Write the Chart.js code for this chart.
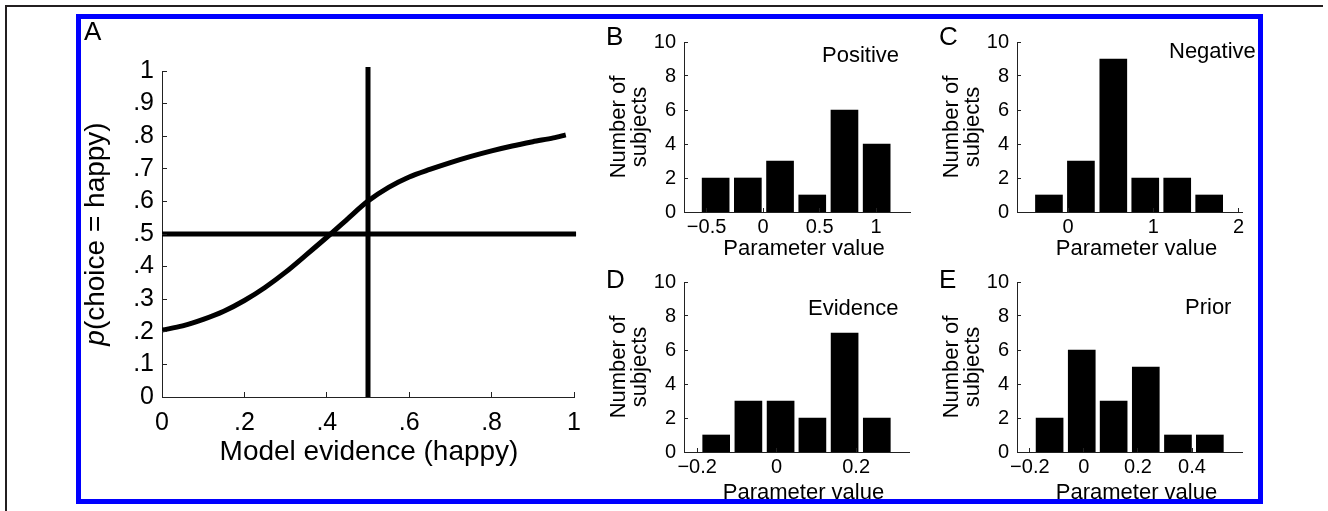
<!DOCTYPE html>
<html>
<head>
<meta charset="utf-8">
<script src="https://cdn.jsdelivr.net/npm/chart.js@4.4.1/dist/chart.umd.min.js"></script>
<style>
  body { margin: 0; background: #fff; width: 1328px; height: 511px; overflow: hidden; position: relative; }
  canvas { position: absolute; }
  .rule-top { position: absolute; left: 5px; top: 5px; width: 1318px; height: 2px; background: #231f20; }
  .rule-left { position: absolute; left: 5px; top: 5px; width: 2px; height: 506px; background: #231f20; }
  .frame { position: absolute; left: 76px; top: 14px; width: 1187px; height: 490px; box-sizing: border-box; border: 5px solid #0000ff; z-index: 5; }
</style>
</head>
<body>
<div class="rule-top"></div>
<div class="rule-left"></div>
<canvas id="panelA"></canvas>
<canvas id="panelB"></canvas>
<canvas id="panelC"></canvas>
<canvas id="panelD"></canvas>
<canvas id="panelE"></canvas>
<div class="frame"></div>
<script>
// Panel A: choice probability vs model evidence
var evidence = [0, 0.05, 0.1, 0.15, 0.2, 0.25, 0.3, 0.35, 0.4, 0.45, 0.5, 0.55, 0.6, 0.65, 0.7, 0.75, 0.8, 0.85, 0.9, 0.95, 0.98];
var pHappy = [0.205, 0.218, 0.238, 0.263, 0.296, 0.336, 0.383, 0.436, 0.49, 0.546, 0.601, 0.643, 0.675, 0.698, 0.719, 0.738, 0.755, 0.77, 0.783, 0.795, 0.804];
var chanceX = [0, 1.005];
var chanceY = [0.5, 0.5];
var midX = [0.5, 0.5];
var midY = [0, 1.012];
var ticksAx = [0, 0.2, 0.4, 0.6, 0.8, 1];
var labelsAx = ['0', '.2', '.4', '.6', '.8', '1'];
var ticksAy = [0, 0.1, 0.2, 0.3, 0.4, 0.5, 0.6, 0.7, 0.8, 0.9, 1];
var labelsAy = ['0', '.1', '.2', '.3', '.4', '.5', '.6', '.7', '.8', '.9', '1'];

// Panels B-E: histograms of fitted parameters (bin centres, counts)
var positiveBins = [-0.42, -0.135, 0.15, 0.435, 0.72, 1.005];
var positiveCounts = [2, 2, 3, 1, 6, 4];
var negativeBins = [-0.225, 0.15, 0.53, 0.905, 1.28, 1.655];
var negativeCounts = [1, 3, 9, 2, 2, 1];
var evidenceBins = [-0.152, -0.071, 0.01, 0.09, 0.171, 0.252];
var evidenceCounts = [1, 3, 3, 2, 7, 2];
var priorBins = [-0.127, -0.008, 0.11, 0.229, 0.348, 0.466];
var priorCounts = [2, 6, 3, 5, 1, 1];

var countTicks = [0, 2, 4, 6, 8, 10];
var countLabels = ['0', '2', '4', '6', '8', '10'];
var positiveTicks = [-0.5, 0, 0.5, 1];
var positiveLabels = ['\u22120.5', '0', '0.5', '1'];
var negativeTicks = [0, 1, 2];
var negativeLabels = ['0', '1', '2'];
var evidenceTicks = [-0.2, 0, 0.2];
var evidenceLabels = ['\u22120.2', '0', '0.2'];
var priorTicks = [-0.2, 0, 0.2, 0.4];
var priorLabels = ['\u22120.2', '0', '0.2', '0.4'];

var FONT = "'Liberation Sans', Arial, Helvetica, sans-serif";
Chart.defaults.font.family = FONT;
Chart.defaults.color = '#000';

function zip(xs, ys) {
    return xs.map(function(x, i) { return {x: x, y: ys[i]}; });
}

// ticks pointing into the plot, matlab style
function innerTicks(len) {
    return {
        id: 'innerTicks',
        afterDatasetsDraw: function(chart) {
            var ctx = chart.ctx, a = chart.chartArea, sx = chart.scales.x, sy = chart.scales.y;
            ctx.save();
            ctx.strokeStyle = '#222';
            ctx.lineWidth = 1;
            ctx.beginPath();
            sx.ticks.forEach(function(t) {
                var px = Math.floor(sx.getPixelForValue(t.value)) + 0.5;
                ctx.moveTo(px, a.bottom);
                ctx.lineTo(px, a.bottom - len);
            });
            sy.ticks.forEach(function(t) {
                var py = Math.floor(sy.getPixelForValue(t.value)) + 0.5;
                ctx.moveTo(a.left, py);
                ctx.lineTo(a.left + len, py);
            });
            ctx.stroke();
            ctx.restore();
        }
    };
}

// free text (panel letters, titles) in page coordinates
function textLayer(box, items) {
    return {
        id: 'textLayer',
        afterDraw: function(chart) {
            var ctx = chart.ctx;
            items.forEach(function(it) {
                var parts = it.parts || [{t: it.text}];
                var fontOf = function(p) { return (p.style || 'normal') + ' ' + it.size + 'px ' + FONT; };
                var widths = [], total = 0;
                ctx.save();
                parts.forEach(function(p) {
                    ctx.font = fontOf(p);
                    var w = ctx.measureText(p.t).width;
                    widths.push(w);
                    total += w;
                });
                ctx.fillStyle = '#000';
                ctx.textBaseline = 'alphabetic';
                ctx.textAlign = 'left';
                ctx.translate(it.x - box.l, it.y - box.t);
                if (it.rotate) ctx.rotate(-Math.PI / 2);
                var x0 = it.align === 'center' ? -total / 2 : 0;
                parts.forEach(function(p, i) {
                    ctx.font = fontOf(p);
                    ctx.fillText(p.t, x0, 0);
                    x0 += widths[i];
                });
                ctx.restore();
            });
        }
    };
}

function axis(min, max, values, labels, size, pad, fixSize, horizontal) {
    return {
        type: 'linear', min: min, max: max, offset: false,
        grid: {display: false, drawTicks: false, offset: false},
        border: {display: true, color: '#222', width: 1},
        afterBuildTicks: function(s) { s.ticks = values.map(function(v) { return {value: v}; }); },
        ticks: {
            autoSkip: false, maxRotation: 0, padding: pad, color: '#000',
            font: {size: size},
            callback: function(v, i) { return labels[i]; }
        },
        afterFit: function(s) {
            if (horizontal) s.height = fixSize; else s.width = fixSize;
            s.paddingLeft = 0; s.paddingRight = 0; s.paddingTop = 0; s.paddingBottom = 0;
        }
    };
}

function panel(id, box, area, spec) {
    var cv = document.getElementById(id);
    cv.width = box.w; cv.height = box.h;
    cv.style.left = box.l + 'px'; cv.style.top = box.t + 'px';
    cv.style.width = box.w + 'px'; cv.style.height = box.h + 'px';
    return new Chart(cv, {
        type: spec.type,
        data: {datasets: spec.datasets},
        options: {
            responsive: false, animation: false, devicePixelRatio: 1,
            layout: {padding: {left: 0, top: area.t - box.t, right: box.l + box.w - area.r, bottom: 0}},
            plugins: {legend: {display: false}, tooltip: {enabled: false}},
            scales: {
                x: axis(spec.xMin, spec.xMax, spec.xTicks, spec.xLabels, spec.tickSize, spec.xPad, box.t + box.h - area.b, true),
                y: axis(spec.yMin, spec.yMax, spec.yTicks, spec.yLabels, spec.tickSize, spec.yPad, area.l - box.l, false)
            }
        },
        plugins: [innerTicks(spec.tickLen), textLayer(box, spec.texts)]
    });
}

function lineSet(points, clip) {
    return {data: points, borderColor: '#000', borderWidth: 5, pointRadius: 0, tension: 0.3, fill: false, clip: clip, borderCapStyle: 'butt'};
}

panel('panelA', {l: 70, t: 20, w: 540, h: 470}, {l: 162, t: 71, r: 574, b: 397}, {
    type: 'line',
    datasets: [
        lineSet(zip(evidence, pHappy), 0),
        lineSet(zip(chanceX, chanceY), false),
        lineSet(zip(midX, midY), false)
    ],
    xMin: 0, xMax: 1, xTicks: ticksAx, xLabels: labelsAx,
    yMin: 0, yMax: 1, yTicks: ticksAy, yLabels: labelsAy,
    tickSize: 25, xPad: 11, yPad: 8, tickLen: 5,
    texts: [
        {text: 'A', x: 84, y: 40, size: 26},
        {text: 'Model evidence (happy)', x: 369, y: 460, size: 28, align: 'center'},
        {parts: [{t: 'p', style: 'italic'}, {t: '(choice = happy)'}], x: 104, y: 234, size: 28, align: 'center', rotate: true}
    ]
});

function histPanel(id, box, area, bins, counts, xMin, xMax, xTicks, xLabels, letter, letterY, note, titleY) {
    var texts = [
        {text: letter, x: area.l - 78, y: letterY, size: 26},
        {text: note.text, x: note.x, y: note.y, size: 22},
        {text: 'Parameter value', x: (area.l + area.r) / 2 + 7, y: titleY, size: 22, align: 'center'},
        {text: 'Number of', x: area.l - 59.5, y: (area.t + area.b) / 2, size: 22, align: 'center', rotate: true},
        {text: 'subjects', x: area.l - 38, y: (area.t + area.b) / 2, size: 22, align: 'center', rotate: true}
    ];
    return panel(id, box, area, {
        type: 'bar',
        datasets: [{data: zip(bins, counts), backgroundColor: '#000', borderWidth: 0, barThickness: 27}],
        xMin: xMin, xMax: xMax, xTicks: xTicks, xLabels: xLabels,
        yMin: 0, yMax: 10, yTicks: countTicks, yLabels: countLabels,
        tickSize: 20, xPad: 3, yPad: 8, tickLen: 4,
        texts: texts
    });
}

histPanel('panelB', {l: 590, t: 18, w: 345, h: 250}, {l: 684, t: 42, r: 910, b: 212},
    positiveBins, positiveCounts, -0.7, 1.3, positiveTicks, positiveLabels,
    'B', 45, {text: 'Positive', x: 822, y: 62}, 255);
histPanel('panelC', {l: 925, t: 18, w: 340, h: 250}, {l: 1017, t: 42, r: 1242, b: 212},
    negativeBins, negativeCounts, -0.6, 2.04, negativeTicks, negativeLabels,
    'C', 45, {text: 'Negative', x: 1169, y: 57.5}, 255);
histPanel('panelD', {l: 590, t: 258, w: 345, h: 250}, {l: 684, t: 282, r: 909, b: 452},
    evidenceBins, evidenceCounts, -0.233, 0.333, evidenceTicks, evidenceLabels,
    'D', 288, {text: 'Evidence', x: 808, y: 315}, 499);
histPanel('panelE', {l: 925, t: 258, w: 340, h: 250}, {l: 1017, t: 282, r: 1242, b: 452},
    priorBins, priorCounts, -0.2476, 0.585, priorTicks, priorLabels,
    'E', 288, {text: 'Prior', x: 1185, y: 314}, 499);
</script>
</body>
</html>
